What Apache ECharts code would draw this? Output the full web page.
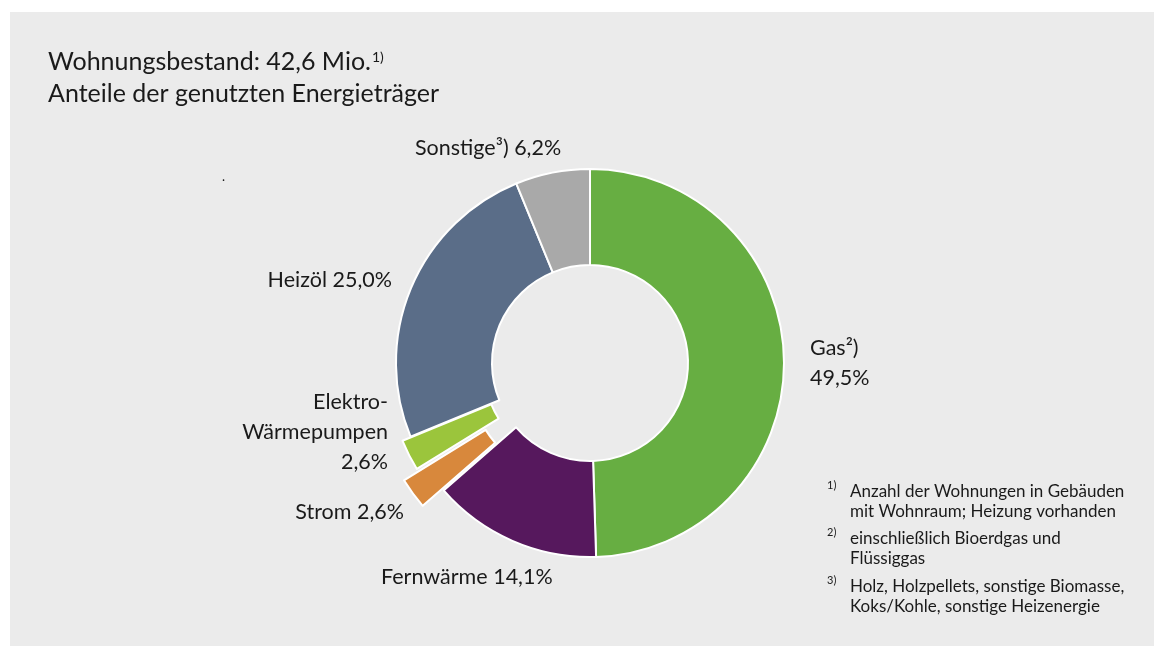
<!DOCTYPE html>
<html>
<head>
<meta charset="utf-8">
<script src="https://cdn.jsdelivr.net/npm/echarts@6/dist/echarts.min.js"></script>
<style>
  html, body { margin: 0; padding: 0; background: #fff; }
  #chart { width: 1154px; height: 646px; }
</style>
</head>
<body>
<div id="chart"></div>
<script>
// data
const categories = ['Gas²)', 'Fernwärme', 'Strom', 'Elektro-\nWärmepumpen', 'Heizöl', 'Sonstige³)'];
const shares = [49.5, 14.1, 2.6, 2.6, 25.0, 6.2];
const sliceColors = ['#67ae42', '#56185d', '#d8883c', '#9bc53c', '#5a6d88', '#a9a9a9'];
const titleLines = ['Wohnungsbestand: 42,6 Mio.', 'Anteile der genutzten Energieträger'];
const footnoteMarks = ['1)', '2)', '3)'];
const footnoteTexts = [
  'Anzahl der Wohnungen in Gebäuden\nmit Wohnraum; Heizung vorhanden',
  'einschließlich Bioerdgas und\nFlüssiggas',
  'Holz, Holzpellets, sonstige Biomasse,\nKoks/Kohle, sonstige Heizenergie'
];

const FONT = 'Lato, "Open Sans", sans-serif';
const TEXT = '#1a1a1a';
const center = [590, 363];
const radius = [98, 194];

// where each label sits (x, y middle, align)
const labelPos = [
  { x: 810, y: 363, align: 'left' },
  { x: 381, y: 577, align: 'left' },
  { x: 404, y: 512, align: 'right' },
  { x: 388, y: 432, align: 'right' },
  { x: 392, y: 280, align: 'right' },
  { x: 415, y: 148, align: 'left' }
];

function pct(v) {
  return v.toFixed(1).replace('.', ',') + '%';
}

const chart = echarts.init(document.getElementById('chart'));

// base ring, the two exploded slices are left empty here
const base = {
  type: 'pie',
  center: center,
  radius: radius,
  startAngle: 90,
  clockwise: true,
  silent: true,
  avoidLabelOverlap: false,
  label: {
    show: true,
    position: 'outside',
    color: TEXT,
    fontFamily: FONT,
    fontSize: 21.5,
    lineHeight: 30,
    formatter: function (p) {
      const sep = (p.dataIndex === 0 || p.dataIndex === 3) ? '\n' : ' ';
      return p.name + sep + pct(p.value);
    }
  },
  labelLine: { show: false },
  labelLayout: function (p) {
    const lp = labelPos[p.dataIndex];
    return { x: lp.x, y: lp.y, align: lp.align, verticalAlign: 'middle' };
  },
  data: shares.map(function (v, i) {
    const hidden = (i === 2 || i === 3);
    return {
      name: categories[i],
      value: v,
      itemStyle: hidden
        ? { color: 'rgba(0,0,0,0)', borderWidth: 0 }
        : { color: sliceColors[i], borderColor: '#fff', borderWidth: 2 }
    };
  })
};

function exploded(idx, offset) {
  const style = { color: sliceColors[idx], borderColor: '#fff', borderWidth: 2 };
  return {
    type: 'pie',
    center: center,
    radius: radius,
    startAngle: 90,
    clockwise: true,
    silent: true,
    selectedMode: 'single',
    selectedOffset: offset,
    label: { show: false },
    labelLine: { show: false },
    select: { itemStyle: style },
    data: shares.map(function (v, i) {
      return {
        name: categories[i],
        value: v,
        selected: i === idx,
        itemStyle: i === idx ? style : { color: 'rgba(0,0,0,0)', borderWidth: 0 }
      };
    })
  };
}

const notes = [];
const noteY = [491, 538, 586];
footnoteTexts.forEach(function (t, i) {
  notes.push({
    type: 'text',
    style: {
      text: footnoteMarks[i], x: 827, y: noteY[i] - 6,
      font: '11px ' + FONT, fill: TEXT, textVerticalAlign: 'middle'
    }
  });
  notes.push({
    type: 'text',
    style: {
      text: t, x: 850, y: noteY[i] - 10, lineHeight: 20.5,
      font: '17px ' + FONT, fill: TEXT, textVerticalAlign: 'top'
    }
  });
});

chart.setOption({
  animation: false,
  title: {
    left: 48,
    top: 46,
    padding: 0,
    text: '{t|' + titleLines[0] + '}{s|1)}\n{t|' + titleLines[1] + '}',
    textStyle: {
      rich: {
        t: { fontSize: 25, fontWeight: 'normal', fontFamily: FONT, color: TEXT, lineHeight: 32 },
        s: { fontSize: 14, fontWeight: 'normal', fontFamily: FONT, color: TEXT, lineHeight: 14, verticalAlign: 'top', padding: [4, 0, 0, 1] }
      }
    }
  },
  graphic: [
    { type: 'rect', z: -10, shape: { x: 10, y: 12, width: 1144, height: 634 }, style: { fill: '#ebebeb' } },
    { type: 'text', style: { text: '.', x: 222, y: 183, font: '13px ' + FONT, fill: TEXT, textVerticalAlign: 'bottom' } }
  ].concat(notes),
  series: [base, exploded(3, 9), exploded(2, 26)]
});
</script>
</body>
</html>
